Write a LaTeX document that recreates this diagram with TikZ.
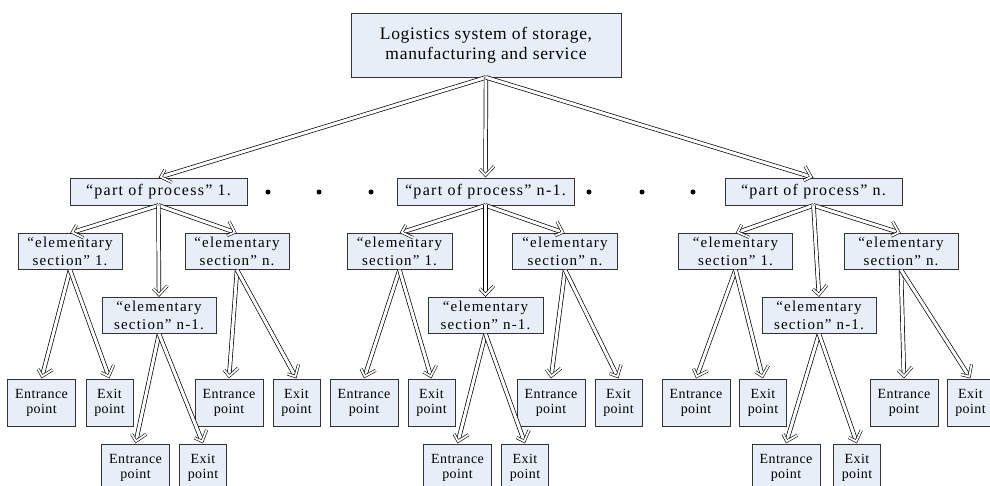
\documentclass[tikz,border=0pt]{standalone}
\usepackage{fontspec}
\setmainfont{Liberation Serif}
\usetikzlibrary{decorations.markings}
\definecolor{BoxFill}{HTML}{E8EEF8}
\definecolor{BoxLine}{HTML}{333333}

\begin{document}
\begin{tikzpicture}[x=1pt, y=-1pt,
      box/.style={draw=BoxLine, line width=0.8pt, fill=BoxFill, inner sep=0pt,
                  align=center},
      sysbox/.style={box, minimum width=270pt, minimum height=64pt,
                     font=\fontsize{17.5}{20}\selectfont\addfontfeatures{LetterSpace=4}},
      partbox/.style={box, minimum width=177pt, minimum height=27pt,
                      font=\fontsize{16}{18}\selectfont\addfontfeatures{LetterSpace=8}},
      secbox/.style={box, minimum height=36pt,
                     font=\fontsize{15}{18}\selectfont\addfontfeatures{LetterSpace=8}},
      ptbox/.style={box, minimum height=47pt,
                    font=\fontsize{14}{15}\selectfont\addfontfeatures{LetterSpace=3}},
      % hollow double arrow: double shaft plus a double-lined chevron at the end
      link/.style={draw=black, line width=0.7pt, double=white, double distance=3pt,
                   shorten >=4pt,
                   decoration={markings, mark=at position 1 with {
                     \draw[line width=0.6pt, double=white, double distance=1.8pt, line join=miter]
                       (-11.4pt,8.5pt) -- (-2.4pt,0pt) -- (-11.4pt,-8.5pt);}},
                   postaction={decorate}},
      dot/.style={circle, fill=black, inner sep=0pt, minimum size=5pt}
    ]
      \clip (0,0) rectangle (990,485);
      \path[use as bounding box] (0,0) rectangle (990,485);

      \node[sysbox] (sys) at (486,45) {Logistics system of storage,\\manufacturing and service};

      % one group per "part of process"
      \foreach \g/\px/\lbl/\sa/\sb/\sc/\sw/\wc/\ia/\oa/\ib/\ob/\ic/\oc in {
          1/158.5/1./70/237/159/104/114/41.5/109.5/229/296.5/135.5/203,
          2/485.5/n-1./399.5/565/485.5/105/115/364/431.5/551/618.5/457.5/525,
          3/813.5/n./735.5/901/819/114/114/696/763/904/970.5/786/857}{
        \node[partbox] (p\g) at (\px,191.5) {“part of process” \lbl};
        \node[secbox, minimum width=\sw pt] (s\g a) at (\sa,251.5) {“elementary\\section” 1.};
        \node[secbox, minimum width=\sw pt] (s\g b) at (\sb,251.5) {“elementary\\section” n.};
        \node[secbox, minimum width=\wc pt] (s\g c) at (\sc,315.5) {“elementary\\section” n-1.};
        \node[ptbox, minimum width=68pt] (in\g a) at (\ia,402.5) {Entrance\\point};
        \node[ptbox, minimum width=47pt] (out\g a) at (\oa,402.5) {Exit\\point};
        \node[ptbox, minimum width=68pt] (in\g b) at (\ib,402.5) {Entrance\\point};
        \node[ptbox, minimum width=47pt] (out\g b) at (\ob,402.5) {Exit\\point};
        \node[ptbox, minimum width=68pt] (in\g c) at (\ic,467.5) {Entrance\\point};
        \node[ptbox, minimum width=47pt] (out\g c) at (\oc,467.5) {Exit\\point};

        \draw[link] (sys.south) -- (p\g.north);
        \draw[link] (p\g.south) -- (s\g a.north);
        \draw[link] (p\g.south) -- (s\g b.north);
        \draw[link] (p\g.south) -- (s\g c.north);
        \foreach \s in {a,b,c}{
          \draw[link] (s\g\s.south) -- (in\g\s.north);
          \draw[link] (s\g\s.south) -- (out\g\s.north);
        }
      }

      % dots between the parts
      \foreach \x [count=\i] in {268,319,371,589,642,693}
        \node[dot] (d\i) at (\x,192) {};
    \end{tikzpicture}
\end{document}
